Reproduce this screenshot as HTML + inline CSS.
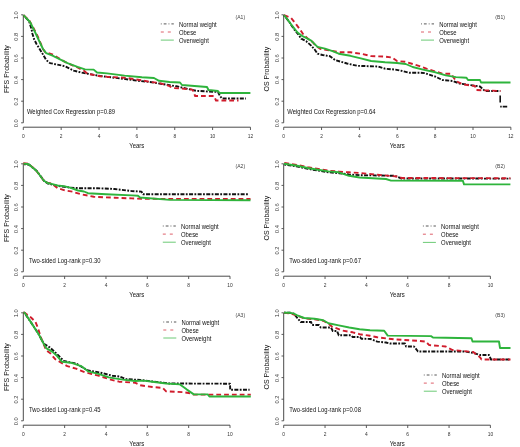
<!DOCTYPE html>
<html><head><meta charset="utf-8"><style>
html,body{margin:0;padding:0;background:#fff;}
svg{display:block;filter:blur(0.3px);}
text{font-family:"Liberation Sans", sans-serif;}
</style></head><body>
<svg width="520" height="447" viewBox="0 0 520 447">
<rect width="520" height="447" fill="#fff"/>
<path d="M23.3 122.8V14.80" stroke="#4a4a4a" stroke-width="1" fill="none"/>
<path d="M23.3 122.80H21.10" stroke="#4a4a4a" stroke-width="0.9"/>
<text transform="translate(18.30 123.20) scale(0.843 1) rotate(-90)" font-size="5.7" text-anchor="middle" fill="#333">0.0</text>
<path d="M23.3 101.20H21.10" stroke="#4a4a4a" stroke-width="0.9"/>
<text transform="translate(18.30 101.60) scale(0.843 1) rotate(-90)" font-size="5.7" text-anchor="middle" fill="#333">0.2</text>
<path d="M23.3 79.60H21.10" stroke="#4a4a4a" stroke-width="0.9"/>
<text transform="translate(18.30 80.00) scale(0.843 1) rotate(-90)" font-size="5.7" text-anchor="middle" fill="#333">0.4</text>
<path d="M23.3 58.00H21.10" stroke="#4a4a4a" stroke-width="0.9"/>
<text transform="translate(18.30 58.40) scale(0.843 1) rotate(-90)" font-size="5.7" text-anchor="middle" fill="#333">0.6</text>
<path d="M23.3 36.40H21.10" stroke="#4a4a4a" stroke-width="0.9"/>
<text transform="translate(18.30 36.80) scale(0.843 1) rotate(-90)" font-size="5.7" text-anchor="middle" fill="#333">0.8</text>
<path d="M23.3 14.80H21.10" stroke="#4a4a4a" stroke-width="0.9"/>
<text transform="translate(18.30 15.20) scale(0.843 1) rotate(-90)" font-size="5.7" text-anchor="middle" fill="#333">1.0</text>
<path d="M23.3 127.20H250.46" stroke="#4a4a4a" stroke-width="1" fill="none"/>
<path d="M23.30 127.20V130.00" stroke="#4a4a4a" stroke-width="0.9"/>
<text transform="translate(23.30 137.90) scale(0.843 1)" font-size="5.8" text-anchor="middle" fill="#333">0</text>
<path d="M61.16 127.20V130.00" stroke="#4a4a4a" stroke-width="0.9"/>
<text transform="translate(61.16 137.90) scale(0.843 1)" font-size="5.8" text-anchor="middle" fill="#333">2</text>
<path d="M99.02 127.20V130.00" stroke="#4a4a4a" stroke-width="0.9"/>
<text transform="translate(99.02 137.90) scale(0.843 1)" font-size="5.8" text-anchor="middle" fill="#333">4</text>
<path d="M136.88 127.20V130.00" stroke="#4a4a4a" stroke-width="0.9"/>
<text transform="translate(136.88 137.90) scale(0.843 1)" font-size="5.8" text-anchor="middle" fill="#333">6</text>
<path d="M174.74 127.20V130.00" stroke="#4a4a4a" stroke-width="0.9"/>
<text transform="translate(174.74 137.90) scale(0.843 1)" font-size="5.8" text-anchor="middle" fill="#333">8</text>
<path d="M212.60 127.20V130.00" stroke="#4a4a4a" stroke-width="0.9"/>
<text transform="translate(212.60 137.90) scale(0.843 1)" font-size="5.8" text-anchor="middle" fill="#333">10</text>
<path d="M250.46 127.20V130.00" stroke="#4a4a4a" stroke-width="0.9"/>
<text transform="translate(250.46 137.90) scale(0.843 1)" font-size="5.8" text-anchor="middle" fill="#333">12</text>
<text transform="translate(136.80 147.80) scale(0.843 1)" font-size="7.1" text-anchor="middle" fill="#111">Years</text>
<text transform="translate(8.50 69.10) scale(1.0 1) rotate(-90)" font-size="7.0" text-anchor="middle" fill="#111">FFS Probability</text>
<text transform="translate(240.30 19.30) scale(0.843 1)" font-size="6.0" text-anchor="middle" fill="#444">(A1)</text>
<text transform="translate(26.90 113.80) scale(0.843 1)" font-size="7.0" text-anchor="start" fill="#111">Weighted Cox Regression p=0.89</text>
<path d="M283.7 122.8V14.80" stroke="#4a4a4a" stroke-width="1" fill="none"/>
<path d="M283.7 122.80H281.50" stroke="#4a4a4a" stroke-width="0.9"/>
<text transform="translate(278.70 123.20) scale(0.843 1) rotate(-90)" font-size="5.7" text-anchor="middle" fill="#333">0.0</text>
<path d="M283.7 101.20H281.50" stroke="#4a4a4a" stroke-width="0.9"/>
<text transform="translate(278.70 101.60) scale(0.843 1) rotate(-90)" font-size="5.7" text-anchor="middle" fill="#333">0.2</text>
<path d="M283.7 79.60H281.50" stroke="#4a4a4a" stroke-width="0.9"/>
<text transform="translate(278.70 80.00) scale(0.843 1) rotate(-90)" font-size="5.7" text-anchor="middle" fill="#333">0.4</text>
<path d="M283.7 58.00H281.50" stroke="#4a4a4a" stroke-width="0.9"/>
<text transform="translate(278.70 58.40) scale(0.843 1) rotate(-90)" font-size="5.7" text-anchor="middle" fill="#333">0.6</text>
<path d="M283.7 36.40H281.50" stroke="#4a4a4a" stroke-width="0.9"/>
<text transform="translate(278.70 36.80) scale(0.843 1) rotate(-90)" font-size="5.7" text-anchor="middle" fill="#333">0.8</text>
<path d="M283.7 14.80H281.50" stroke="#4a4a4a" stroke-width="0.9"/>
<text transform="translate(278.70 15.20) scale(0.843 1) rotate(-90)" font-size="5.7" text-anchor="middle" fill="#333">1.0</text>
<path d="M283.7 127.20H510.86" stroke="#4a4a4a" stroke-width="1" fill="none"/>
<path d="M283.70 127.20V130.00" stroke="#4a4a4a" stroke-width="0.9"/>
<text transform="translate(283.70 137.90) scale(0.843 1)" font-size="5.8" text-anchor="middle" fill="#333">0</text>
<path d="M321.56 127.20V130.00" stroke="#4a4a4a" stroke-width="0.9"/>
<text transform="translate(321.56 137.90) scale(0.843 1)" font-size="5.8" text-anchor="middle" fill="#333">2</text>
<path d="M359.42 127.20V130.00" stroke="#4a4a4a" stroke-width="0.9"/>
<text transform="translate(359.42 137.90) scale(0.843 1)" font-size="5.8" text-anchor="middle" fill="#333">4</text>
<path d="M397.28 127.20V130.00" stroke="#4a4a4a" stroke-width="0.9"/>
<text transform="translate(397.28 137.90) scale(0.843 1)" font-size="5.8" text-anchor="middle" fill="#333">6</text>
<path d="M435.14 127.20V130.00" stroke="#4a4a4a" stroke-width="0.9"/>
<text transform="translate(435.14 137.90) scale(0.843 1)" font-size="5.8" text-anchor="middle" fill="#333">8</text>
<path d="M473.00 127.20V130.00" stroke="#4a4a4a" stroke-width="0.9"/>
<text transform="translate(473.00 137.90) scale(0.843 1)" font-size="5.8" text-anchor="middle" fill="#333">10</text>
<path d="M510.86 127.20V130.00" stroke="#4a4a4a" stroke-width="0.9"/>
<text transform="translate(510.86 137.90) scale(0.843 1)" font-size="5.8" text-anchor="middle" fill="#333">12</text>
<text transform="translate(397.20 147.80) scale(0.843 1)" font-size="7.1" text-anchor="middle" fill="#111">Years</text>
<text transform="translate(268.90 69.10) scale(1.0 1) rotate(-90)" font-size="7.0" text-anchor="middle" fill="#111">OS Probability</text>
<text transform="translate(500.10 19.30) scale(0.843 1)" font-size="6.0" text-anchor="middle" fill="#444">(B1)</text>
<text transform="translate(287.30 113.80) scale(0.843 1)" font-size="7.0" text-anchor="start" fill="#111">Weighted Cox Regression p=0.64</text>
<path d="M23.3 271.8V163.80" stroke="#4a4a4a" stroke-width="1" fill="none"/>
<path d="M23.3 271.80H21.10" stroke="#4a4a4a" stroke-width="0.9"/>
<text transform="translate(18.30 272.20) scale(0.843 1) rotate(-90)" font-size="5.7" text-anchor="middle" fill="#333">0.0</text>
<path d="M23.3 250.20H21.10" stroke="#4a4a4a" stroke-width="0.9"/>
<text transform="translate(18.30 250.60) scale(0.843 1) rotate(-90)" font-size="5.7" text-anchor="middle" fill="#333">0.2</text>
<path d="M23.3 228.60H21.10" stroke="#4a4a4a" stroke-width="0.9"/>
<text transform="translate(18.30 229.00) scale(0.843 1) rotate(-90)" font-size="5.7" text-anchor="middle" fill="#333">0.4</text>
<path d="M23.3 207.00H21.10" stroke="#4a4a4a" stroke-width="0.9"/>
<text transform="translate(18.30 207.40) scale(0.843 1) rotate(-90)" font-size="5.7" text-anchor="middle" fill="#333">0.6</text>
<path d="M23.3 185.40H21.10" stroke="#4a4a4a" stroke-width="0.9"/>
<text transform="translate(18.30 185.80) scale(0.843 1) rotate(-90)" font-size="5.7" text-anchor="middle" fill="#333">0.8</text>
<path d="M23.3 163.80H21.10" stroke="#4a4a4a" stroke-width="0.9"/>
<text transform="translate(18.30 164.20) scale(0.843 1) rotate(-90)" font-size="5.7" text-anchor="middle" fill="#333">1.0</text>
<path d="M23.3 276.20H230.00" stroke="#4a4a4a" stroke-width="1" fill="none"/>
<path d="M23.30 276.20V279.00" stroke="#4a4a4a" stroke-width="0.9"/>
<text transform="translate(23.30 286.90) scale(0.843 1)" font-size="5.8" text-anchor="middle" fill="#333">0</text>
<path d="M64.64 276.20V279.00" stroke="#4a4a4a" stroke-width="0.9"/>
<text transform="translate(64.64 286.90) scale(0.843 1)" font-size="5.8" text-anchor="middle" fill="#333">2</text>
<path d="M105.98 276.20V279.00" stroke="#4a4a4a" stroke-width="0.9"/>
<text transform="translate(105.98 286.90) scale(0.843 1)" font-size="5.8" text-anchor="middle" fill="#333">4</text>
<path d="M147.32 276.20V279.00" stroke="#4a4a4a" stroke-width="0.9"/>
<text transform="translate(147.32 286.90) scale(0.843 1)" font-size="5.8" text-anchor="middle" fill="#333">6</text>
<path d="M188.66 276.20V279.00" stroke="#4a4a4a" stroke-width="0.9"/>
<text transform="translate(188.66 286.90) scale(0.843 1)" font-size="5.8" text-anchor="middle" fill="#333">8</text>
<path d="M230.00 276.20V279.00" stroke="#4a4a4a" stroke-width="0.9"/>
<text transform="translate(230.00 286.90) scale(0.843 1)" font-size="5.8" text-anchor="middle" fill="#333">10</text>
<text transform="translate(136.80 296.80) scale(0.843 1)" font-size="7.1" text-anchor="middle" fill="#111">Years</text>
<text transform="translate(8.50 218.10) scale(1.0 1) rotate(-90)" font-size="7.0" text-anchor="middle" fill="#111">FFS Probability</text>
<text transform="translate(240.30 168.30) scale(0.843 1)" font-size="6.0" text-anchor="middle" fill="#444">(A2)</text>
<text transform="translate(28.90 262.80) scale(0.843 1)" font-size="7.0" text-anchor="start" fill="#111">Two-sided Log-rank p=0.30</text>
<path d="M283.7 271.8V163.80" stroke="#4a4a4a" stroke-width="1" fill="none"/>
<path d="M283.7 271.80H281.50" stroke="#4a4a4a" stroke-width="0.9"/>
<text transform="translate(278.70 272.20) scale(0.843 1) rotate(-90)" font-size="5.7" text-anchor="middle" fill="#333">0.0</text>
<path d="M283.7 250.20H281.50" stroke="#4a4a4a" stroke-width="0.9"/>
<text transform="translate(278.70 250.60) scale(0.843 1) rotate(-90)" font-size="5.7" text-anchor="middle" fill="#333">0.2</text>
<path d="M283.7 228.60H281.50" stroke="#4a4a4a" stroke-width="0.9"/>
<text transform="translate(278.70 229.00) scale(0.843 1) rotate(-90)" font-size="5.7" text-anchor="middle" fill="#333">0.4</text>
<path d="M283.7 207.00H281.50" stroke="#4a4a4a" stroke-width="0.9"/>
<text transform="translate(278.70 207.40) scale(0.843 1) rotate(-90)" font-size="5.7" text-anchor="middle" fill="#333">0.6</text>
<path d="M283.7 185.40H281.50" stroke="#4a4a4a" stroke-width="0.9"/>
<text transform="translate(278.70 185.80) scale(0.843 1) rotate(-90)" font-size="5.7" text-anchor="middle" fill="#333">0.8</text>
<path d="M283.7 163.80H281.50" stroke="#4a4a4a" stroke-width="0.9"/>
<text transform="translate(278.70 164.20) scale(0.843 1) rotate(-90)" font-size="5.7" text-anchor="middle" fill="#333">1.0</text>
<path d="M283.7 276.20H490.40" stroke="#4a4a4a" stroke-width="1" fill="none"/>
<path d="M283.70 276.20V279.00" stroke="#4a4a4a" stroke-width="0.9"/>
<text transform="translate(283.70 286.90) scale(0.843 1)" font-size="5.8" text-anchor="middle" fill="#333">0</text>
<path d="M325.04 276.20V279.00" stroke="#4a4a4a" stroke-width="0.9"/>
<text transform="translate(325.04 286.90) scale(0.843 1)" font-size="5.8" text-anchor="middle" fill="#333">2</text>
<path d="M366.38 276.20V279.00" stroke="#4a4a4a" stroke-width="0.9"/>
<text transform="translate(366.38 286.90) scale(0.843 1)" font-size="5.8" text-anchor="middle" fill="#333">4</text>
<path d="M407.72 276.20V279.00" stroke="#4a4a4a" stroke-width="0.9"/>
<text transform="translate(407.72 286.90) scale(0.843 1)" font-size="5.8" text-anchor="middle" fill="#333">6</text>
<path d="M449.06 276.20V279.00" stroke="#4a4a4a" stroke-width="0.9"/>
<text transform="translate(449.06 286.90) scale(0.843 1)" font-size="5.8" text-anchor="middle" fill="#333">8</text>
<path d="M490.40 276.20V279.00" stroke="#4a4a4a" stroke-width="0.9"/>
<text transform="translate(490.40 286.90) scale(0.843 1)" font-size="5.8" text-anchor="middle" fill="#333">10</text>
<text transform="translate(397.20 296.80) scale(0.843 1)" font-size="7.1" text-anchor="middle" fill="#111">Years</text>
<text transform="translate(268.90 218.10) scale(1.0 1) rotate(-90)" font-size="7.0" text-anchor="middle" fill="#111">OS Probability</text>
<text transform="translate(500.10 168.30) scale(0.843 1)" font-size="6.0" text-anchor="middle" fill="#444">(B2)</text>
<text transform="translate(289.30 262.80) scale(0.843 1)" font-size="7.0" text-anchor="start" fill="#111">Two-sided Log-rank p=0.67</text>
<path d="M23.3 420.8V312.80" stroke="#4a4a4a" stroke-width="1" fill="none"/>
<path d="M23.3 420.80H21.10" stroke="#4a4a4a" stroke-width="0.9"/>
<text transform="translate(18.30 421.20) scale(0.843 1) rotate(-90)" font-size="5.7" text-anchor="middle" fill="#333">0.0</text>
<path d="M23.3 399.20H21.10" stroke="#4a4a4a" stroke-width="0.9"/>
<text transform="translate(18.30 399.60) scale(0.843 1) rotate(-90)" font-size="5.7" text-anchor="middle" fill="#333">0.2</text>
<path d="M23.3 377.60H21.10" stroke="#4a4a4a" stroke-width="0.9"/>
<text transform="translate(18.30 378.00) scale(0.843 1) rotate(-90)" font-size="5.7" text-anchor="middle" fill="#333">0.4</text>
<path d="M23.3 356.00H21.10" stroke="#4a4a4a" stroke-width="0.9"/>
<text transform="translate(18.30 356.40) scale(0.843 1) rotate(-90)" font-size="5.7" text-anchor="middle" fill="#333">0.6</text>
<path d="M23.3 334.40H21.10" stroke="#4a4a4a" stroke-width="0.9"/>
<text transform="translate(18.30 334.80) scale(0.843 1) rotate(-90)" font-size="5.7" text-anchor="middle" fill="#333">0.8</text>
<path d="M23.3 312.80H21.10" stroke="#4a4a4a" stroke-width="0.9"/>
<text transform="translate(18.30 313.20) scale(0.843 1) rotate(-90)" font-size="5.7" text-anchor="middle" fill="#333">1.0</text>
<path d="M23.3 425.20H230.00" stroke="#4a4a4a" stroke-width="1" fill="none"/>
<path d="M23.30 425.20V428.00" stroke="#4a4a4a" stroke-width="0.9"/>
<text transform="translate(23.30 435.90) scale(0.843 1)" font-size="5.8" text-anchor="middle" fill="#333">0</text>
<path d="M64.64 425.20V428.00" stroke="#4a4a4a" stroke-width="0.9"/>
<text transform="translate(64.64 435.90) scale(0.843 1)" font-size="5.8" text-anchor="middle" fill="#333">2</text>
<path d="M105.98 425.20V428.00" stroke="#4a4a4a" stroke-width="0.9"/>
<text transform="translate(105.98 435.90) scale(0.843 1)" font-size="5.8" text-anchor="middle" fill="#333">4</text>
<path d="M147.32 425.20V428.00" stroke="#4a4a4a" stroke-width="0.9"/>
<text transform="translate(147.32 435.90) scale(0.843 1)" font-size="5.8" text-anchor="middle" fill="#333">6</text>
<path d="M188.66 425.20V428.00" stroke="#4a4a4a" stroke-width="0.9"/>
<text transform="translate(188.66 435.90) scale(0.843 1)" font-size="5.8" text-anchor="middle" fill="#333">8</text>
<path d="M230.00 425.20V428.00" stroke="#4a4a4a" stroke-width="0.9"/>
<text transform="translate(230.00 435.90) scale(0.843 1)" font-size="5.8" text-anchor="middle" fill="#333">10</text>
<text transform="translate(136.80 445.80) scale(0.843 1)" font-size="7.1" text-anchor="middle" fill="#111">Years</text>
<text transform="translate(8.50 367.10) scale(1.0 1) rotate(-90)" font-size="7.0" text-anchor="middle" fill="#111">FFS Probability</text>
<text transform="translate(240.30 317.30) scale(0.843 1)" font-size="6.0" text-anchor="middle" fill="#444">(A3)</text>
<text transform="translate(28.90 411.80) scale(0.843 1)" font-size="7.0" text-anchor="start" fill="#111">Two-sided Log-rank p=0.45</text>
<path d="M283.7 420.8V312.80" stroke="#4a4a4a" stroke-width="1" fill="none"/>
<path d="M283.7 420.80H281.50" stroke="#4a4a4a" stroke-width="0.9"/>
<text transform="translate(278.70 421.20) scale(0.843 1) rotate(-90)" font-size="5.7" text-anchor="middle" fill="#333">0.0</text>
<path d="M283.7 399.20H281.50" stroke="#4a4a4a" stroke-width="0.9"/>
<text transform="translate(278.70 399.60) scale(0.843 1) rotate(-90)" font-size="5.7" text-anchor="middle" fill="#333">0.2</text>
<path d="M283.7 377.60H281.50" stroke="#4a4a4a" stroke-width="0.9"/>
<text transform="translate(278.70 378.00) scale(0.843 1) rotate(-90)" font-size="5.7" text-anchor="middle" fill="#333">0.4</text>
<path d="M283.7 356.00H281.50" stroke="#4a4a4a" stroke-width="0.9"/>
<text transform="translate(278.70 356.40) scale(0.843 1) rotate(-90)" font-size="5.7" text-anchor="middle" fill="#333">0.6</text>
<path d="M283.7 334.40H281.50" stroke="#4a4a4a" stroke-width="0.9"/>
<text transform="translate(278.70 334.80) scale(0.843 1) rotate(-90)" font-size="5.7" text-anchor="middle" fill="#333">0.8</text>
<path d="M283.7 312.80H281.50" stroke="#4a4a4a" stroke-width="0.9"/>
<text transform="translate(278.70 313.20) scale(0.843 1) rotate(-90)" font-size="5.7" text-anchor="middle" fill="#333">1.0</text>
<path d="M283.7 425.20H490.40" stroke="#4a4a4a" stroke-width="1" fill="none"/>
<path d="M283.70 425.20V428.00" stroke="#4a4a4a" stroke-width="0.9"/>
<text transform="translate(283.70 435.90) scale(0.843 1)" font-size="5.8" text-anchor="middle" fill="#333">0</text>
<path d="M325.04 425.20V428.00" stroke="#4a4a4a" stroke-width="0.9"/>
<text transform="translate(325.04 435.90) scale(0.843 1)" font-size="5.8" text-anchor="middle" fill="#333">2</text>
<path d="M366.38 425.20V428.00" stroke="#4a4a4a" stroke-width="0.9"/>
<text transform="translate(366.38 435.90) scale(0.843 1)" font-size="5.8" text-anchor="middle" fill="#333">4</text>
<path d="M407.72 425.20V428.00" stroke="#4a4a4a" stroke-width="0.9"/>
<text transform="translate(407.72 435.90) scale(0.843 1)" font-size="5.8" text-anchor="middle" fill="#333">6</text>
<path d="M449.06 425.20V428.00" stroke="#4a4a4a" stroke-width="0.9"/>
<text transform="translate(449.06 435.90) scale(0.843 1)" font-size="5.8" text-anchor="middle" fill="#333">8</text>
<path d="M490.40 425.20V428.00" stroke="#4a4a4a" stroke-width="0.9"/>
<text transform="translate(490.40 435.90) scale(0.843 1)" font-size="5.8" text-anchor="middle" fill="#333">10</text>
<text transform="translate(397.20 445.80) scale(0.843 1)" font-size="7.1" text-anchor="middle" fill="#111">Years</text>
<text transform="translate(268.90 367.10) scale(1.0 1) rotate(-90)" font-size="7.0" text-anchor="middle" fill="#111">OS Probability</text>
<text transform="translate(500.10 317.30) scale(0.843 1)" font-size="6.0" text-anchor="middle" fill="#444">(B3)</text>
<text transform="translate(289.30 411.80) scale(0.843 1)" font-size="7.0" text-anchor="start" fill="#111">Two-sided Log-rank p=0.08</text>
<path d="M160.80 23.90H173.80" stroke="#111" stroke-width="1" opacity="0.7" stroke-dasharray="0.9 2 2.8 2"/>
<text transform="translate(179.00 26.50) scale(0.843 1)" font-size="7.0" text-anchor="start" fill="#111">Normal weight</text>
<path d="M160.80 32.00H173.80" stroke="#d01c2c" stroke-width="1" opacity="0.7" stroke-dasharray="3 4"/>
<text transform="translate(179.00 34.60) scale(0.843 1)" font-size="7.0" text-anchor="start" fill="#111">Obese</text>
<path d="M160.80 40.10H173.80" stroke="#2eb43c" stroke-width="1" opacity="0.7"/>
<text transform="translate(179.00 42.70) scale(0.843 1)" font-size="7.0" text-anchor="start" fill="#111">Overweight</text>
<path d="M421.00 23.90H434.00" stroke="#111" stroke-width="1" opacity="0.7" stroke-dasharray="0.9 2 2.8 2"/>
<text transform="translate(439.20 26.50) scale(0.843 1)" font-size="7.0" text-anchor="start" fill="#111">Normal weight</text>
<path d="M421.00 32.00H434.00" stroke="#d01c2c" stroke-width="1" opacity="0.7" stroke-dasharray="3 4"/>
<text transform="translate(439.20 34.60) scale(0.843 1)" font-size="7.0" text-anchor="start" fill="#111">Obese</text>
<path d="M421.00 40.10H434.00" stroke="#2eb43c" stroke-width="1" opacity="0.7"/>
<text transform="translate(439.20 42.70) scale(0.843 1)" font-size="7.0" text-anchor="start" fill="#111">Overweight</text>
<path d="M162.80 226.00H175.80" stroke="#111" stroke-width="1" opacity="0.7" stroke-dasharray="0.9 2 2.8 2"/>
<text transform="translate(181.00 228.60) scale(0.843 1)" font-size="7.0" text-anchor="start" fill="#111">Normal weight</text>
<path d="M162.80 234.10H175.80" stroke="#d01c2c" stroke-width="1" opacity="0.7" stroke-dasharray="3 4"/>
<text transform="translate(181.00 236.70) scale(0.843 1)" font-size="7.0" text-anchor="start" fill="#111">Obese</text>
<path d="M162.80 242.20H175.80" stroke="#2eb43c" stroke-width="1" opacity="0.7"/>
<text transform="translate(181.00 244.80) scale(0.843 1)" font-size="7.0" text-anchor="start" fill="#111">Overweight</text>
<path d="M422.90 226.00H435.90" stroke="#111" stroke-width="1" opacity="0.7" stroke-dasharray="0.9 2 2.8 2"/>
<text transform="translate(441.10 228.60) scale(0.843 1)" font-size="7.0" text-anchor="start" fill="#111">Normal weight</text>
<path d="M422.90 234.20H435.90" stroke="#d01c2c" stroke-width="1" opacity="0.7" stroke-dasharray="3 4"/>
<text transform="translate(441.10 236.80) scale(0.843 1)" font-size="7.0" text-anchor="start" fill="#111">Obese</text>
<path d="M422.90 242.40H435.90" stroke="#2eb43c" stroke-width="1" opacity="0.7"/>
<text transform="translate(441.10 245.00) scale(0.843 1)" font-size="7.0" text-anchor="start" fill="#111">Overweight</text>
<path d="M163.30 322.00H176.30" stroke="#111" stroke-width="1" opacity="0.7" stroke-dasharray="0.9 2 2.8 2"/>
<text transform="translate(181.50 324.60) scale(0.843 1)" font-size="7.0" text-anchor="start" fill="#111">Normal weight</text>
<path d="M163.30 330.00H176.30" stroke="#d01c2c" stroke-width="1" opacity="0.7" stroke-dasharray="3 4"/>
<text transform="translate(181.50 332.60) scale(0.843 1)" font-size="7.0" text-anchor="start" fill="#111">Obese</text>
<path d="M163.30 338.00H176.30" stroke="#2eb43c" stroke-width="1" opacity="0.7"/>
<text transform="translate(181.50 340.60) scale(0.843 1)" font-size="7.0" text-anchor="start" fill="#111">Overweight</text>
<path d="M423.80 375.00H436.80" stroke="#111" stroke-width="1" opacity="0.7" stroke-dasharray="0.9 2 2.8 2"/>
<text transform="translate(442.00 377.60) scale(0.843 1)" font-size="7.0" text-anchor="start" fill="#111">Normal weight</text>
<path d="M423.80 383.10H436.80" stroke="#d01c2c" stroke-width="1" opacity="0.7" stroke-dasharray="3 4"/>
<text transform="translate(442.00 385.70) scale(0.843 1)" font-size="7.0" text-anchor="start" fill="#111">Obese</text>
<path d="M423.80 391.20H436.80" stroke="#2eb43c" stroke-width="1" opacity="0.7"/>
<text transform="translate(442.00 393.80) scale(0.843 1)" font-size="7.0" text-anchor="start" fill="#111">Overweight</text>
<path d="M23.5 15.2 L24.0 16.0 L29.0 21.0 L31.5 29.0 L32.5 34.0 L34.0 39.0 L36.5 44.0 L39.0 48.0 L41.5 52.0 L46.2 60.0 L50.0 63.1 L56.2 64.4 L65.0 66.2 L73.7 70.6 L81.2 72.5 L87.5 73.7 L100.0 76.0 L121.0 78.5 L138.4 80.8 L150.0 82.0 L166.0 84.6 L176.5 86.3 L196.0 90.8 L218.0 92.0 L220.0 96.0 L222.0 98.5 L246.0 98.5" stroke="#111" stroke-width="1.9" fill="none" stroke-linejoin="round" stroke-dasharray="1.8 1.4 4 1.4"/>
<path d="M23.5 15.2 L29.0 20.0 L32.5 26.2 L38.0 37.0 L43.0 49.0 L45.0 51.9 L53.7 55.0 L65.0 61.9 L77.5 67.5 L83.7 70.6 L87.5 73.7 L100.0 76.2 L107.0 76.8 L124.6 77.7 L141.9 80.3 L150.6 82.0 L159.0 82.9 L168.0 85.5 L173.0 88.0 L180.0 88.5 L192.0 89.5 L194.0 92.0 L195.0 96.0 L214.0 96.0 L216.0 100.5 L238.5 100.5" stroke="#d01c2c" stroke-width="1.9" fill="none" stroke-linejoin="round" stroke-dasharray="4.8 3"/>
<path d="M23.5 15.2 L30.0 22.0 L35.0 32.0 L38.7 40.0 L43.0 49.0 L46.2 53.2 L52.5 55.6 L60.0 59.4 L67.5 63.1 L77.5 66.9 L85.0 69.4 L93.7 69.6 L97.0 72.5 L107.0 73.4 L124.6 75.6 L141.9 77.3 L154.0 78.0 L159.0 80.8 L169.6 82.0 L180.0 82.5 L182.0 85.0 L207.0 87.0 L208.5 90.0 L218.0 91.0 L219.5 93.0 L250.4 93.0" stroke="#2eb43c" stroke-width="1.9" fill="none" stroke-linejoin="round"/>
<path d="M284.0 15.2 L288.7 21.2 L293.7 28.7 L298.7 35.0 L301.2 38.7 L306.2 41.2 L311.2 45.6 L315.0 50.0 L317.5 53.7 L322.5 55.0 L330.0 56.2 L335.0 60.0 L340.0 61.5 L347.0 63.5 L357.3 65.8 L378.0 66.5 L385.0 68.7 L395.4 69.6 L402.3 71.0 L409.2 72.7 L419.6 72.7 L425.0 73.2 L435.4 76.6 L442.3 80.0 L452.7 81.0 L459.6 83.5 L470.0 85.0 L480.0 86.5 L485.0 91.0 L500.2 91.0" stroke="#111" stroke-width="1.9" fill="none" stroke-linejoin="round" stroke-dasharray="1.8 1.4 4 1.4"/>
<path d="M284.0 15.2 L291.2 18.1 L296.2 24.4 L300.0 29.4 L303.7 35.0 L308.7 39.4 L312.5 41.9 L316.2 46.2 L320.0 48.7 L340.0 52.3 L350.4 52.3 L360.8 53.7 L371.1 56.1 L385.0 56.6 L392.0 57.5 L397.0 61.0 L405.7 61.8 L412.7 64.0 L419.6 66.1 L426.5 68.7 L442.3 73.7 L451.0 73.7 L456.0 81.0 L463.0 84.4 L475.0 86.0 L476.0 90.0 L500.5 91.0" stroke="#d01c2c" stroke-width="1.9" fill="none" stroke-linejoin="round" stroke-dasharray="4.8 3"/>
<path d="M284.0 15.2 L287.5 19.4 L292.5 26.2 L297.5 32.5 L302.5 36.2 L307.5 38.7 L311.2 40.6 L313.7 43.1 L317.5 46.9 L325.0 48.7 L332.5 51.2 L338.7 53.7 L350.4 55.8 L360.8 58.4 L371.1 61.0 L385.0 62.3 L397.0 63.0 L405.7 64.0 L412.7 67.0 L423.0 69.6 L435.4 72.3 L445.8 75.4 L456.0 77.1 L466.5 77.8 L468.0 80.0 L480.0 80.0 L481.0 82.5 L510.5 82.5" stroke="#2eb43c" stroke-width="1.9" fill="none" stroke-linejoin="round"/>
<path d="M24.1 164.2 L29.3 164.8 L33.1 168.0 L36.8 171.1 L40.6 176.1 L44.3 181.1 L48.1 183.6 L53.1 184.8 L58.1 186.1 L64.3 186.7 L70.0 187.6 L80.0 188.2 L97.3 188.2 L114.6 189.0 L131.9 191.1 L141.5 191.6 L143.0 194.3 L248.0 194.3" stroke="#111" stroke-width="1.9" fill="none" stroke-linejoin="round" stroke-dasharray="1.8 1.4 4 1.4"/>
<path d="M23.2 163.2 L28.4 163.8 L32.2 167.0 L35.9 170.1 L39.7 175.1 L43.4 180.1 L47.2 182.6 L52.2 183.8 L57.5 188.0 L65.0 190.5 L72.5 191.7 L80.0 194.0 L93.8 196.8 L114.6 197.7 L131.9 198.4 L142.3 198.8 L250.5 199.0" stroke="#d01c2c" stroke-width="1.9" fill="none" stroke-linejoin="round" stroke-dasharray="4.8 3"/>
<path d="M23.5 163.6 L28.7 164.2 L32.5 167.4 L36.2 170.5 L40.0 175.5 L43.7 180.5 L47.5 183.0 L52.5 184.2 L57.5 185.5 L63.7 186.1 L70.0 187.6 L78.0 190.5 L84.0 191.5 L88.0 193.2 L106.0 194.2 L131.9 195.4 L138.0 195.8 L140.0 197.5 L170.0 199.9 L250.5 200.3" stroke="#2eb43c" stroke-width="1.9" fill="none" stroke-linejoin="round"/>
<path d="M284.3 164.6 L297.6 166.6 L308.0 168.9 L318.3 170.6 L328.7 172.3 L339.1 173.2 L349.0 174.5 L360.0 175.2 L394.6 175.8 L401.5 178.5 L510.4 178.6" stroke="#111" stroke-width="1.9" fill="none" stroke-linejoin="round" stroke-dasharray="1.8 1.4 4 1.4"/>
<path d="M284.3 163.0 L297.6 165.0 L308.0 167.3 L318.3 169.0 L328.7 170.7 L339.1 171.6 L349.0 172.3 L360.0 173.0 L377.3 174.7 L398.0 176.6 L401.5 178.0 L510.4 178.2" stroke="#d01c2c" stroke-width="1.9" fill="none" stroke-linejoin="round" stroke-dasharray="4.8 3"/>
<path d="M284.0 163.7 L297.3 165.7 L307.7 168.0 L318.0 169.7 L328.4 171.4 L338.8 172.3 L349.0 175.8 L359.6 177.5 L386.0 179.0 L391.0 180.6 L462.9 180.8 L464.0 184.4 L510.4 184.4" stroke="#2eb43c" stroke-width="1.9" fill="none" stroke-linejoin="round"/>
<path d="M23.5 312.8 L24.5 312.8 L31.0 322.4 L38.7 334.2 L43.7 343.7 L50.0 347.5 L56.9 354.0 L63.8 361.0 L76.0 363.5 L88.0 370.5 L102.0 373.0 L112.3 375.7 L119.2 376.5 L126.0 379.0 L140.0 380.0 L169.6 383.5 L230.0 383.7 L230.2 389.8 L249.6 389.8" stroke="#111" stroke-width="1.9" fill="none" stroke-linejoin="round" stroke-dasharray="1.8 1.4 4 1.4"/>
<path d="M23.5 312.8 L24.5 312.8 L27.0 314.5 L31.0 317.5 L35.5 322.0 L38.2 328.7 L40.6 336.9 L45.0 347.5 L46.5 350.5 L50.0 353.0 L55.2 359.2 L67.3 366.1 L76.0 368.7 L84.6 372.2 L98.4 375.7 L110.6 379.6 L119.2 381.7 L135.0 382.7 L140.2 385.3 L152.3 387.0 L162.7 387.9 L166.1 391.3 L183.4 392.2 L188.6 393.0 L193.8 394.6 L250.8 394.6" stroke="#d01c2c" stroke-width="1.9" fill="none" stroke-linejoin="round" stroke-dasharray="4.8 3"/>
<path d="M23.5 312.8 L24.5 312.8 L31.0 322.4 L38.7 334.2 L43.7 343.7 L46.2 348.1 L52.5 351.9 L56.9 355.8 L62.1 361.8 L70.8 362.7 L81.1 366.1 L88.0 371.3 L98.4 373.9 L108.8 377.4 L122.7 379.6 L135.0 381.0 L143.7 380.6 L152.3 381.8 L166.1 383.5 L180.0 384.4 L186.9 389.6 L193.8 394.4 L207.7 394.4 L209.4 396.5 L250.8 396.5" stroke="#2eb43c" stroke-width="1.9" fill="none" stroke-linejoin="round"/>
<path d="M284.0 312.8 L290.4 312.8 L293.8 313.7 L297.3 318.0 L300.8 322.0 L311.1 322.0 L312.0 325.0 L319.0 325.0 L320.7 327.5 L331.0 327.5 L332.8 331.0 L337.0 331.0 L338.8 335.3 L351.0 335.3 L352.7 337.0 L360.0 337.0 L361.3 338.7 L370.4 339.0 L377.3 341.6 L386.0 342.5 L390.0 343.5 L405.0 343.5 L406.0 346.5 L414.0 346.5 L418.0 351.5 L429.2 351.5 L464.6 351.5 L473.3 352.9 L478.4 354.6 L480.0 355.0 L489.0 355.0 L491.0 359.5 L510.0 359.5" stroke="#111" stroke-width="1.9" fill="none" stroke-linejoin="round" stroke-dasharray="1.8 1.4 4 1.4"/>
<path d="M284.0 312.8 L290.4 313.5 L297.3 315.8 L304.2 318.4 L314.6 319.3 L323.3 320.8 L328.4 323.8 L331.9 326.6 L342.3 330.6 L352.7 332.3 L359.6 334.2 L370.0 335.8 L377.3 337.3 L394.6 339.4 L417.1 340.8 L425.7 341.6 L429.2 345.1 L445.6 346.5 L452.5 350.0 L473.3 352.0 L476.0 354.3 L480.2 357.4 L481.5 359.5 L510.5 359.5" stroke="#d01c2c" stroke-width="1.9" fill="none" stroke-linejoin="round" stroke-dasharray="4.8 3"/>
<path d="M284.0 312.8 L290.4 312.8 L293.8 313.7 L297.3 315.4 L304.2 318.0 L314.6 318.8 L323.3 320.2 L328.4 323.2 L338.8 325.4 L349.2 327.5 L359.6 329.2 L370.0 330.2 L384.2 330.7 L387.7 335.6 L431.0 336.1 L433.0 337.5 L471.5 338.3 L472.5 341.5 L499.0 341.5 L500.0 348.0 L510.5 348.0" stroke="#2eb43c" stroke-width="1.9" fill="none" stroke-linejoin="round"/>
<path d="M500.2 95.5 L500.2 102.5" stroke="#111" stroke-width="1.6" fill="none" stroke-linejoin="round"/>
<path d="M500.2 106.6 L507.2 106.6" stroke="#111" stroke-width="1.9" fill="none" stroke-linejoin="round" stroke-dasharray="1.5 1 4.5 9"/>
</svg>
</body></html>
